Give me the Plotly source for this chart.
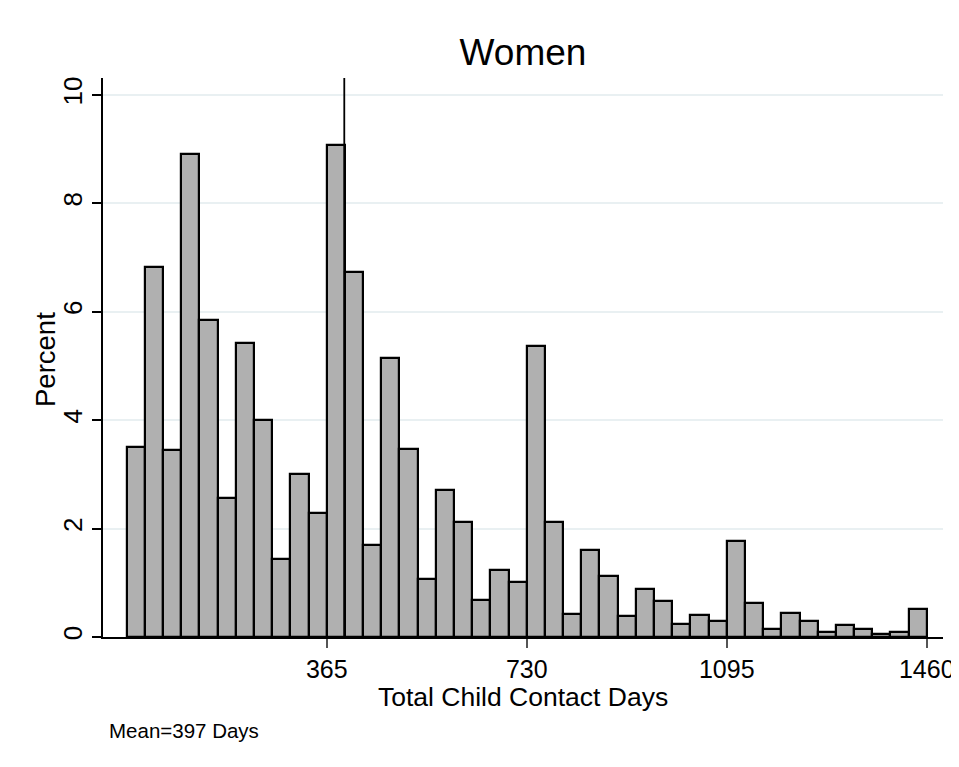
import plotly.graph_objects as go

# ---- data ----
bin_count = 44
x_max_days = 1460
percent = [3.50, 6.82, 3.45, 8.90, 5.85, 2.56, 5.42, 4.00, 1.43, 3.00, 2.28,
           9.07, 6.73, 1.69, 5.15, 3.47, 1.07, 2.71, 2.13, 0.69, 1.23, 1.01,
           5.36, 2.13, 0.42, 1.61, 1.13, 0.39, 0.89, 0.67, 0.24, 0.41, 0.29,
           1.77, 0.62, 0.14, 0.45, 0.30, 0.10, 0.22, 0.15, 0.05, 0.09, 0.51]
mean_days = 397
x_tick_vals = [365, 730, 1095, 1460]
x_tick_text = ["365", "730", "1095", "1460"]
y_tick_vals = [0, 2, 4, 6, 8, 10]
title_text = "Women"
x_title = "Total Child Contact Days"
y_title = "Percent"
note_text = "Mean=397 Days"

bw = x_max_days / bin_count
centers = [(i + 0.5) * bw for i in range(bin_count)]

FONT = "Liberation Sans, Arial, sans-serif"
OFF = 8  # page body margin offset

L, R, T, B = 103, 943, 78, 637  # target plot area in page pixels
W, H = 959, 767
pw, ph = R - L, B - T

fig = go.Figure()
fig.add_trace(go.Bar(
    x=centers, y=percent, width=[bw] * bin_count,
    marker=dict(color="#b0b0b0", line=dict(color="black", width=2.2)),
    hoverinfo="x+y", showlegend=False,
))

fig.add_trace(go.Scatter(
    x=[mean_days, mean_days], y=[0, 10.31], mode="lines",
    line=dict(color="black", width=1.8), showlegend=False, hoverinfo="skip",
))

fig.update_layout(
    width=W, height=H,
    margin=dict(l=L - OFF, r=W - R + OFF, t=T - OFF, b=H - B + OFF),
    paper_bgcolor="white", plot_bgcolor="white",
    font=dict(family=FONT, color="black"),
    bargap=0,
    title=dict(text=title_text, x=((L + R) / 2 - OFF) / W, xanchor="center",
               y=1 - (52 - OFF) / H, yanchor="middle",
               font=dict(size=37, family=FONT, color="black")),
    xaxis=dict(
        range=[-43.3, 1489.6], tickvals=x_tick_vals, ticktext=x_tick_text,
        showgrid=False, zeroline=False, showline=True, linecolor="black", linewidth=1.5,
        ticks="outside", ticklen=9, tickwidth=1.5, tickcolor="#555555",
        tickfont=dict(size=25, family=FONT, color="black"),
    ),
    yaxis=dict(
        range=[0, 10.31], tickvals=y_tick_vals, tickangle=-90,
        showgrid=True, gridcolor="#e9f0f2", gridwidth=1.5,
        zeroline=False, showline=True, linecolor="black", linewidth=1.5,
        ticks="outside", ticklen=9, tickwidth=1.5, tickcolor="black",
        tickfont=dict(size=26, family=FONT, color="black"),
    ),
    annotations=[
        dict(text=note_text, xref="paper", yref="paper",
             x=(107 - L) / pw, y=-(730 - B) / ph, xanchor="left", yanchor="middle",
             showarrow=False, font=dict(size=20.5, family=FONT, color="black")),
        dict(text=x_title, xref="paper", yref="paper",
             x=(523 - L) / pw, y=-(697 - B) / ph, xanchor="center", yanchor="middle",
             showarrow=False, font=dict(size=26.5, family=FONT, color="black")),
        dict(text=y_title, xref="paper", yref="paper", textangle=-90,
             x=(45 - L) / pw, y=(B - 359) / ph, xanchor="center", yanchor="middle",
             showarrow=False, font=dict(size=27.5, family=FONT, color="black")),
    ],
    shapes=[dict(type="line", xref="paper", yref="paper",
                 x0=-L / pw, x1=(W - L) / pw, y0=(B - 4) / ph, y1=(B - 4) / ph,
                 line=dict(color="#e3e9eb", width=1.5))],
)

fig.write_html("out.html")
